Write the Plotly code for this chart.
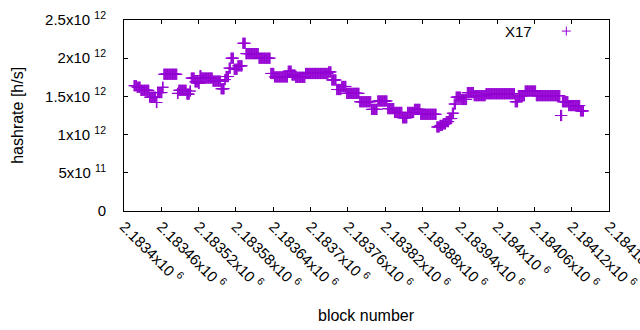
import plotly.graph_objects as go

# ---- data ----
first_block = 2183416
# hashrate plateaus (x 1e12 h/s) and how many consecutive blocks each lasts
run_values = [1.64, 1.62, 1.58, 1.49, 1.42, 1.55, 1.62, 1.79, 1.54, 1.58,
              1.53, 1.57, 1.74, 1.69, 1.67, 1.77, 1.74, 1.70, 1.60, 1.72,
              1.76, 1.87, 2.00, 1.855, 1.90, 2.195, 2.06, 2.00, 1.80, 1.755,
              1.83, 1.78, 1.75, 1.80, 1.82, 1.715, 1.59, 1.63, 1.54, 1.43,
              1.33, 1.44, 1.34, 1.29, 1.22, 1.29, 1.33, 1.266, 1.10, 1.12,
              1.14, 1.17, 1.21, 1.28, 1.40, 1.49, 1.46, 1.55, 1.51, 1.535,
              1.43, 1.51, 1.57, 1.51, 1.25, 1.43, 1.38, 1.31]
run_lengths = [5, 6, 14, 11, 2, 8, 2, 22, 2, 13,
               5, 2, 6, 6, 2, 3, 18, 13, 6, 2,
               5, 3, 5, 6, 8, 5, 21, 19, 6, 22,
               6, 6, 16, 37, 5, 8, 8, 8, 21, 19,
               10, 16, 11, 13, 8, 11, 10, 26, 5, 5,
               5, 5, 5, 3, 3, 8, 10, 11, 19, 47,
               5, 11, 18, 39, 3, 10, 19, 6]

x_tick_vals = [2183400, 2183460, 2183520, 2183580, 2183640, 2183700, 2183760,
               2183820, 2183880, 2183940, 2184000, 2184060, 2184120, 2184180]
x_tick_text = ["2.1834x10 <sup>6</sup>", "2.18346x10 <sup>6</sup>", "2.18352x10 <sup>6</sup>",
               "2.18358x10 <sup>6</sup>", "2.18364x10 <sup>6</sup>", "2.1837x10 <sup>6</sup>",
               "2.18376x10 <sup>6</sup>", "2.18382x10 <sup>6</sup>", "2.18388x10 <sup>6</sup>",
               "2.18394x10 <sup>6</sup>", "2.184x10 <sup>6</sup>", "2.18406x10 <sup>6</sup>",
               "2.18412x10 <sup>6</sup>", "2.18418x10 <sup>6</sup>"]
y_tick_vals = [0, 0.5e12, 1.0e12, 1.5e12, 2.0e12, 2.5e12]
y_tick_text = ["0", "5x10 <sup>11</sup>", "1x10 <sup>12</sup>", "1.5x10 <sup>12</sup>",
               "2x10 <sup>12</sup>", "2.5x10 <sup>12</sup>"]

series_name = "X17"

# ---- build the point list ----
blocks = []
hashrate = []
b = first_block
for v, n in zip(run_values, run_lengths):
    for _ in range(n):
        blocks.append(b)
        hashrate.append(v * 1e12)
        b += 1

PURPLE = "#9400d3"
FONT = "Liberation Sans"

fig = go.Figure()
fig.add_trace(go.Scatter(
    x=blocks, y=hashrate, mode="markers", name=series_name,
    marker=dict(symbol="cross-thin", size=8, color=PURPLE,
                line=dict(color=PURPLE, width=1)),
    showlegend=False, cliponaxis=False,
))

axis_common = dict(showgrid=False, zeroline=False, showline=True, linecolor="black",
                   linewidth=1, mirror="ticks", ticks="inside", ticklen=4,
                   tickcolor="black", automargin=False,
                   tickfont=dict(family=FONT, size=15, color="black"))

fig.update_xaxes(range=[2183400, 2184180], tickmode="array", tickvals=x_tick_vals,
                 ticktext=x_tick_text, tickangle=45, ticklabeloverflow="allow",
                 **axis_common)
fig.update_yaxes(range=[0, 2.5e12], tickmode="array", tickvals=y_tick_vals,
                 ticktext=y_tick_text, ticklabelstandoff=14, **axis_common)

# legend drawn gnuplot-style: text on the left, sample on the right
lx, ly = 0.912, 0.942
dx, dy = 4.5 / 485, 4.5 / 191
fig.add_annotation(x=0.845, y=ly, xref="paper", yref="paper", text=series_name,
                   showarrow=False, xanchor="right", yanchor="middle",
                   font=dict(family=FONT, size=15, color="black"))
fig.add_shape(type="line", xref="paper", yref="paper", x0=lx - dx, x1=lx + dx, y0=ly, y1=ly,
              line=dict(color=PURPLE, width=1))
fig.add_shape(type="line", xref="paper", yref="paper", x0=lx, x1=lx, y0=ly - dy, y1=ly + dy,
              line=dict(color=PURPLE, width=1))

# axis titles
fig.add_annotation(x=-0.22, y=0.5, xref="paper", yref="paper", text="hashrate [h/s]",
                   textangle=-90, showarrow=False, xanchor="center", yanchor="middle",
                   font=dict(family=FONT, size=16, color="black"))
fig.add_annotation(x=0.5, y=-0.545, xref="paper", yref="paper", text="block number",
                   showarrow=False, xanchor="center", yanchor="middle",
                   font=dict(family=FONT, size=16, color="black"))

fig.update_layout(width=640, height=330, margin=dict(l=124, r=31, t=20, b=119),
                  plot_bgcolor="white", paper_bgcolor="white",
                  font=dict(family=FONT, size=15, color="black"))

fig.write_html("out.html", config={"displayModeBar": False},
               post_script="document.body.style.margin='0';document.body.style.overflow='hidden';")
